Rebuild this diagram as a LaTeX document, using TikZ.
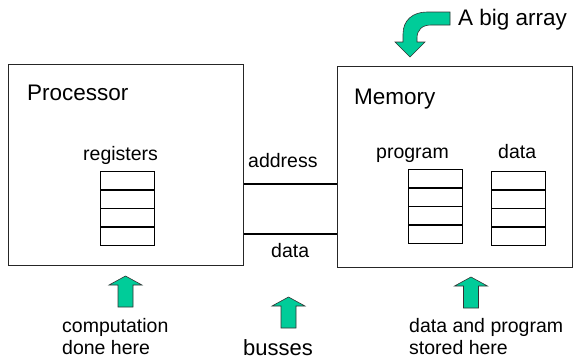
\documentclass[tikz,border=0pt]{standalone}
\usepackage{fontspec}
\setmainfont{Liberation Sans}
\definecolor{arrowgreen}{RGB}{0,204,153}
\begin{document}
\begin{tikzpicture}[x=1pt,y=-1pt,
  box/.style={draw=black!85, line width=1pt, inner sep=0, anchor=north west},
  bigtext/.style={font=\fontsize{22.5}{27}\selectfont, inner sep=0, anchor=base west},
  midtext/.style={font=\fontsize{19.5}{22}\selectfont, inner sep=0, anchor=base west, align=left},
  bustext/.style={font=\fontsize{22}{26}\selectfont, inner sep=0, anchor=base west},
  bus/.style={line width=2.4pt},
  cell/.style={draw, line width=0.9pt, minimum width=54pt, minimum height=17.8pt, inner sep=0},
  fatarrow/.style={fill=arrowgreen, draw=black!80, line width=0.6pt, line join=miter},
  uparrow/.pic={\draw[fatarrow] (-7.5,31) -- (-7.5,9) -- (-16.5,9) -- (0,0)
      -- (16.5,9) -- (7.5,9) -- (7.5,31) -- cycle;}]
  \useasboundingbox (0,0) rectangle (578,360);

  % the two units
  \node[box, minimum width=235pt, minimum height=201pt] (proc) at (8,64) {};
  \node[box, minimum width=235pt, minimum height=201pt] (mem) at (337,66) {};
  \node[bigtext] (proclabel) at (27,100.7) {Processor};
  \node[bigtext] (memlabel) at (354,104) {Memory};

  % register stacks
  \foreach \name/\x/\y in {reg/100/171, prog/408/169, dat/491/171} {
    \node[cell, anchor=north west] (\name1) at (\x,\y) {};
    \node[cell, anchor=north] (\name2) at (\name1.south) {};
    \node[cell, anchor=north] (\name3) at (\name2.south) {};
    \node[cell, anchor=north] (\name4) at (\name3.south) {};
  }
  \node[midtext] (reglabel) at (83,160) {registers};
  \node[midtext] (proglabel) at (376,158) {program};
  \node[midtext] (datlabel) at (498,158) {data};

  % busses
  \coordinate (ya) at (0,184);
  \coordinate (yd) at (0,234);
  \draw[bus] (proc.east |- ya) -- (mem.west |- ya);
  \draw[bus] (proc.east |- yd) -- (mem.west |- yd);
  \node[midtext] (addrlabel) at (248,167) {address};
  \node[midtext] (dbuslabel) at (271,257) {data};

  % big array callout
  \draw[fatarrow] (450,12) -- (450,25) -- (431,25)
    .. controls (422,25) and (417,30) .. (417,38) -- (417,42) -- (425,42)
    -- (410,57) -- (395,42) -- (403,42) -- (403,34)
    .. controls (403,20) and (413,12) .. (427,12) -- cycle;
  \node[bigtext] (arraylabel) at (458,25) {A big array};

  % bottom notes (base anchor of a two-line node sits on its last line)
  \pic at (125.5,276) {uparrow};
  \pic at (288.5,297) {uparrow};
  \pic at (471,277) {uparrow};
  \node[midtext] (compnote) at (62,354) {computation\\done here};
  \node[bustext] (busnote) at (243,355) {busses};
  \node[midtext] (storenote) at (409,354) {data and program\\stored here};
\end{tikzpicture}
\end{document}
